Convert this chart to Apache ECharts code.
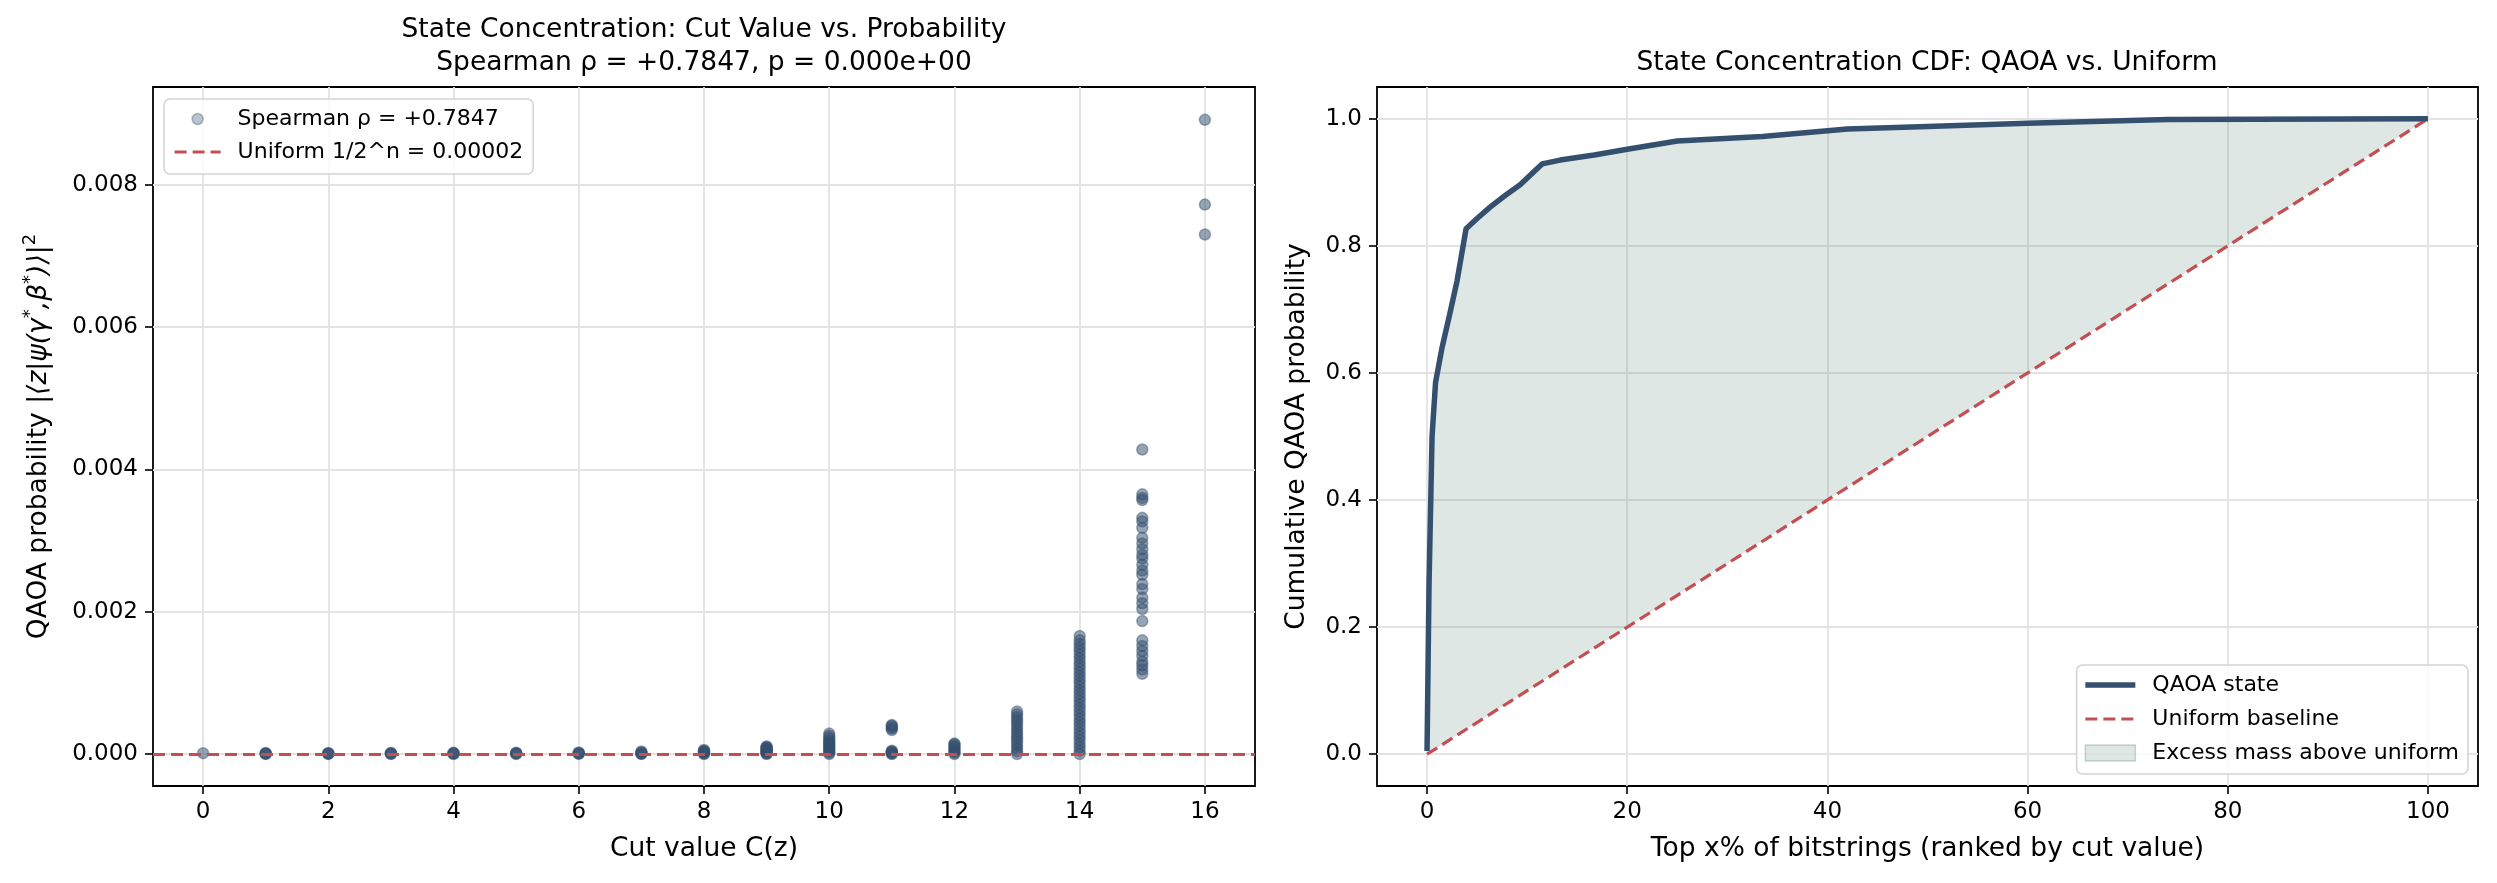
<!DOCTYPE html>
<html>
<head>
<meta charset="utf-8">
<script src="https://cdn.jsdelivr.net/npm/echarts@6/dist/echarts.min.js"></script>
<style>
html, body { margin: 0; padding: 0; background: #fff; }
#chart { width: 2497px; height: 883px; }
</style>
</head>
<body>
<div id="chart"></div>
<script>
// ---- left panel: probability of each bitstring, grouped by cut value ----
var cutTicks = [0, 2, 4, 6, 8, 10, 12, 14, 16];
var probTicks = [0, 0.002, 0.004, 0.006, 0.008];
var nQubits = 16;
var uniformProb = 1 / Math.pow(2, nQubits);

// estimated levels (dense columns are solid in the picture)
var probs_c0 = [0.000015];
var probs_c1 = [0.000004, 0.000008, 0.000012, 0.000016];
var probs_c2 = [0.000004, 0.000008, 0.000012, 0.000017];
var probs_c3 = [0.000004, 0.000009, 0.000013, 0.000018];
var probs_c4 = [0.000004, 0.000009, 0.000014, 0.00002];
var probs_c5 = [0.000004, 0.00001, 0.000015, 0.000022];
var probs_c6 = [0.000005, 0.00001, 0.000017, 0.000025];
var probs_c7 = [0.000003, 0.000008, 0.000015, 0.000025, 0.00004];
var probs_c8 = [0.000003, 0.00001, 0.00002, 0.00003, 0.00004, 0.00005, 0.00006];
var probs_c9 = [0.000003, 0.00001, 0.00002, 0.00003, 0.00004, 0.00005, 0.00006, 0.00007,
                0.00008, 0.00009, 0.0001, 0.00011];
var probs_c10 = [0.000003, 0.00002, 0.00004, 0.00006, 0.00008, 0.0001, 0.00012, 0.00014,
                 0.00016, 0.00018, 0.0002, 0.00023, 0.00026, 0.00029];
var probs_c11 = [0.000003, 0.00001, 0.00002, 0.00003, 0.00004, 0.00005,
                 0.00034, 0.00036, 0.00038, 0.0004, 0.00041];
var probs_c12 = [0.000003, 0.00002, 0.00004, 0.00006, 0.00008, 0.0001, 0.00012, 0.00014, 0.00015];
var probs_c13 = [0.000003, 0.00004, 0.00008, 0.00012, 0.00016, 0.0002, 0.00024, 0.00028,
                 0.00032, 0.00036, 0.0004, 0.00044, 0.00048, 0.00052, 0.00056, 0.0006];
var probs_c14 = [0.000003, 0.00005, 0.0001, 0.00015, 0.0002, 0.00025, 0.0003, 0.00035, 0.0004,
                 0.00045, 0.0005, 0.00055, 0.0006, 0.00065, 0.0007, 0.00075, 0.0008, 0.00085,
                 0.0009, 0.00095, 0.001, 0.00105, 0.0011, 0.00115, 0.0012, 0.00125, 0.0013,
                 0.00135, 0.0014, 0.00145, 0.0015, 0.00155, 0.0016, 0.00166];
var probs_c15 = [0.00113, 0.00119, 0.00125, 0.0013, 0.00138, 0.00145, 0.00152, 0.0016, 0.00187, 0.00204,
                 0.00212, 0.0022, 0.00232, 0.00239, 0.00252, 0.00258, 0.00266, 0.00275, 0.0028, 0.00288,
                 0.00296, 0.00304, 0.00318, 0.00327, 0.00332, 0.00357, 0.0036, 0.00365, 0.00428];
var probs_c16 = [0.0073, 0.00772, 0.00891];

var probColumns = [probs_c0, probs_c1, probs_c2, probs_c3, probs_c4, probs_c5, probs_c6, probs_c7, probs_c8,
                   probs_c9, probs_c10, probs_c11, probs_c12, probs_c13, probs_c14, probs_c15, probs_c16];

// ---- right panel: CDF of QAOA mass over bitstrings ranked by cut value ----
var pctTicks = [0, 20, 40, 60, 80, 100];
var cumTicks = [0, 0.2, 0.4, 0.6, 0.8, 1.0];
var cdfTopPct = [0, 0.2, 0.5, 0.85, 1.5, 2.3, 3.0, 3.9, 5, 6.3, 7.7, 9.3, 10.7, 11.5, 13.3, 16.7,
                 20, 25, 33.5, 42, 50, 60, 74, 100];
var cdfCum = [0.005, 0.27, 0.5, 0.585, 0.64, 0.695, 0.745, 0.827, 0.843, 0.861, 0.878, 0.896, 0.917,
              0.929, 0.935, 0.943, 0.952, 0.965, 0.972, 0.984, 0.988, 0.993, 0.999, 1.0];
var baselineX = [0, 100];
var baselineY = [0, 1];

var FONT = 'DejaVu Sans';
var NAVY = '#35506f';
var RED = '#c44e52';
var FILL = 'rgba(107,144,128,0.22)';
var GRIDLINE = { show: true, lineStyle: { color: '#e3e3e3', width: 1.8 } };
var DASH = [12, 6];

var scatterData = [];
for (var c = 0; c < probColumns.length; c++) {
    for (var k = 0; k < probColumns[c].length; k++) {
        scatterData.push([c, probColumns[c][k]]);
    }
}
var cdfData = cdfTopPct.map(function (x, i) { return [x, cdfCum[i]]; });
var baselineData = baselineX.map(function (x, i) { return [x, baselineY[i]]; });

function tickAxis(ticks, fmt) {
    return {
        axisLine: { show: false, onZero: false },
        axisTick: { show: true, inside: false, customValues: ticks, length: 8, lineStyle: { color: '#000', width: 1.6 } },
        axisLabel: { customValues: ticks, formatter: fmt, color: '#000', fontSize: 23, fontFamily: FONT, margin: 15 },
        splitLine: GRIDLINE
    };
}
function merge(a, b) { for (var key in b) { a[key] = b[key]; } return a; }

var axisNameStyle = { color: '#000', fontSize: 26.5, fontFamily: FONT };
var legendBox = {
    orient: 'vertical', selectedMode: false,
    backgroundColor: 'rgba(255,255,255,0.8)', borderColor: '#d3d3d3', borderWidth: 1.5, borderRadius: 6,
    textStyle: { color: '#000', fontSize: 22, fontFamily: FONT, padding: [0, 0, 0, 12] }
};
var noDot = { opacity: 0 };
var dashedHandle = { color: RED, width: 3.2, type: DASH };

var option = {
    backgroundColor: '#fff',
    animation: false,
    title: [
        {
            text: 'State Concentration: Cut Value vs. Probability\nSpearman ρ = +0.7847, p = 0.000e+00',
            left: 704, top: 14, textAlign: 'center', padding: 0,
            textStyle: { fontWeight: 'normal', fontSize: 26.5, fontFamily: FONT, color: '#000', lineHeight: 33 }
        },
        {
            text: 'State Concentration CDF: QAOA vs. Uniform',
            left: 1927, top: 47, textAlign: 'center', padding: 0,
            textStyle: { fontWeight: 'normal', fontSize: 26.5, fontFamily: FONT, color: '#000', lineHeight: 33 }
        }
    ],
    legend: [
        merge({
            left: 164, top: 99, padding: [9, 10, 11, 9], itemGap: 11, itemWidth: 46, itemHeight: 11,
            data: [
                { name: 'Spearman ρ = +0.7847', icon: 'circle',
                  itemStyle: { color: 'rgba(53,80,111,0.42)', borderColor: 'rgba(53,80,111,0.45)', borderWidth: 1.5 } },
                { name: 'Uniform 1/2^n = 0.00002', itemStyle: noDot, lineStyle: dashedHandle }
            ]
        }, legendBox),
        merge({
            right: 29, top: 665, padding: [9, 9, 10, 6], itemGap: 12, itemWidth: 50, itemHeight: 16,
            data: [
                { name: 'QAOA state', itemStyle: noDot, lineStyle: { color: NAVY, width: 5.5, type: 'solid' } },
                { name: 'Uniform baseline', itemStyle: noDot, lineStyle: dashedHandle },
                { name: 'Excess mass above uniform', icon: 'rect',
                  itemStyle: { color: FILL, borderColor: 'rgba(107,144,128,0.35)', borderWidth: 1.5 } }
            ]
        }, legendBox)
    ],
    grid: [
        { left: 153, top: 87, width: 1102, height: 699, show: true, borderColor: '#000', borderWidth: 1.8, backgroundColor: 'transparent' },
        { left: 1377, top: 87, width: 1101, height: 699, show: true, borderColor: '#000', borderWidth: 1.8, backgroundColor: 'transparent' }
    ],
    xAxis: [
        merge({
            type: 'value', gridIndex: 0, min: -0.8, max: 16.8,
            name: 'Cut value C(z)', nameLocation: 'middle', nameGap: 50, nameTextStyle: axisNameStyle
        }, tickAxis(cutTicks, function (v) { return String(v); })),
        merge({
            type: 'value', gridIndex: 1, min: -5, max: 105,
            name: 'Top x% of bitstrings (ranked by cut value)', nameLocation: 'middle', nameGap: 50, nameTextStyle: axisNameStyle
        }, tickAxis(pctTicks, function (v) { return String(v); }))
    ],
    yAxis: [
        merge({
            type: 'value', gridIndex: 0, min: -0.000446, max: 0.009371,
            name: '{a|QAOA probability }{i||⟨z|ψ(γ}{s|*}{i|,β}{s|*}{i|)⟩|}{s|2}',
            nameLocation: 'middle', nameRotate: 90, nameGap: 100,
            nameTextStyle: {
                rich: {
                    a: { color: '#000', fontSize: 26.5, fontFamily: FONT, lineHeight: 32, verticalAlign: 'bottom' },
                    i: { color: '#000', fontSize: 26.5, fontFamily: FONT, fontStyle: 'italic', lineHeight: 32, verticalAlign: 'bottom' },
                    s: { color: '#000', fontSize: 18, fontFamily: FONT, lineHeight: 18, verticalAlign: 'top' }
                }
            }
        }, tickAxis(probTicks, function (v) { return v.toFixed(3); })),
        merge({
            type: 'value', gridIndex: 1, min: -0.05, max: 1.05,
            name: 'Cumulative QAOA probability', nameLocation: 'middle', nameRotate: 90, nameGap: 66,
            nameTextStyle: axisNameStyle
        }, tickAxis(cumTicks, function (v) { return v.toFixed(1); }))
    ],
    series: [
        {
            name: 'Spearman ρ = +0.7847', type: 'scatter', xAxisIndex: 0, yAxisIndex: 0,
            data: scatterData, symbolSize: 11, z: 2,
            itemStyle: { color: 'rgba(53,80,111,0.65)', borderColor: 'rgba(53,80,111,0.55)', borderWidth: 1.5 }
        },
        {
            name: 'Uniform 1/2^n = 0.00002', type: 'line', xAxisIndex: 0, yAxisIndex: 0,
            data: [], symbol: 'none', z: 3,
            lineStyle: { color: RED, width: 3.2, type: DASH },
            itemStyle: { color: RED },
            markLine: {
                silent: true, symbol: ['none', 'none'], label: { show: false },
                lineStyle: { color: RED, width: 3.2, type: DASH },
                data: [{ yAxis: uniformProb }]
            }
        },
        {
            name: 'Excess mass above uniform', type: 'custom', xAxisIndex: 1, yAxisIndex: 1,
            data: [0], z: 1, silent: true,
            itemStyle: { color: FILL },
            renderItem: function (params, api) {
                var pts = cdfTopPct.map(function (x, i) { return api.coord([x, cdfCum[i]]); });
                pts.push(api.coord([baselineX[0], baselineY[0]]));
                return { type: 'polygon', shape: { points: pts }, style: { fill: FILL } };
            }
        },
        {
            name: 'Uniform baseline', type: 'line', xAxisIndex: 1, yAxisIndex: 1,
            data: baselineData, symbol: 'none', z: 3,
            lineStyle: { color: RED, width: 3.2, type: DASH },
            itemStyle: { color: RED }
        },
        {
            name: 'QAOA state', type: 'line', xAxisIndex: 1, yAxisIndex: 1,
            data: cdfData, symbol: 'none', z: 4,
            lineStyle: { color: NAVY, width: 5.5, join: 'round' },
            itemStyle: { color: NAVY }
        }
    ]
};

var chart = echarts.init(document.getElementById('chart'), null, { renderer: 'canvas' });
chart.setOption(option);
</script>
</body>
</html>
